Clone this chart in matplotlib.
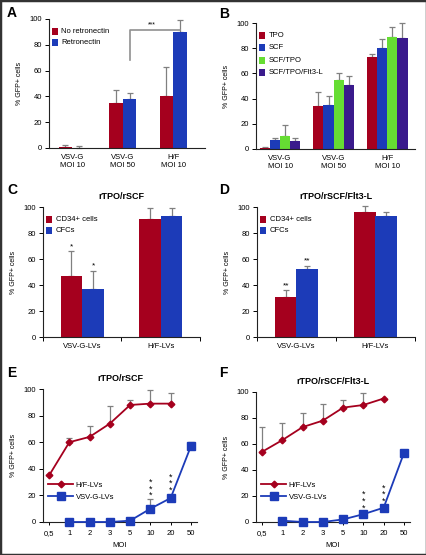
import matplotlib
matplotlib.use("Agg")
import matplotlib.pyplot as plt
import numpy as np
from matplotlib.patches import Rectangle

plt.rcParams['font.family'] = ['Liberation Sans', 'DejaVu Sans']

# ---------------- data ----------------
groups_ab = ["VSV-G\nMOI 10", "VSV-G\nMOI 50", "H/F\nMOI 10"]
a_labels = ["No retronectin", "Retronectin"]
a_noretro = [1, 35, 40]
a_noretro_err = [1, 10, 23]
a_retro = [0.3, 38, 90]
a_retro_err = [1.2, 5, 9]

b_labels = ["TPO", "SCF", "SCF/TPO", "SCF/TPO/Flt3-L"]
b_tpo = [0.5, 34, 73]
b_tpo_err = [1, 11, 2]
b_scf = [7, 35, 80]
b_scf_err = [2, 7, 7]
b_scftpo = [10, 55, 89]
b_scftpo_err = [9, 5, 8]
b_flt3 = [6, 51, 88]
b_flt3_err = [3, 7, 12]

groups_cd = ["VSV-G-LVs", "H/F-LVs"]
cd_labels = ["CD34+ cells", "CFCs"]
c_cd34 = [47, 91]
c_cd34_err = [19, 8]
c_cfc = [37, 93]
c_cfc_err = [14, 6]
d_cd34 = [31, 96]
d_cd34_err = [5, 5]
d_cfc = [52, 93]
d_cfc_err = [3, 3]

moi_labels = ["0,5", "1", "2", "3", "5", "10", "20", "50"]
e_hf = [35, 60, 64, 74, 88, 89, 89, np.nan]
e_hf_err = [0, 3, 8, 13, 4, 10, 8, 0]
e_vsv = [np.nan, 0, 0, 0, 1, 10, 18, 57]
e_vsv_err = [0, 0, 0, 0, 0, 7, 0, 3]
f_hf = [54, 63, 73, 78, 88, 90, 95, np.nan]
f_hf_err = [19, 13, 11, 13, 6, 9, 0, 0]
f_vsv = [np.nan, 1, 0, 0, 2, 6, 11, 53]
f_vsv_err = [0, 0, 0, 0, 0, 0, 0, 2]

RED = "#a5001e"
BLUE = "#1c3bb8"
GREEN = "#66dd33"
PURPLE = "#3a1a8c"
ECOL = "#808080"
FS = 5.5

W, H = 427, 555
fig = plt.figure(figsize=(W / 100, H / 100), dpi=100)


def ax_px(left, right, top, bottom):
    return fig.add_axes([left / W, 1 - bottom / H, (right - left) / W, (bottom - top) / H])


def style(ax, ylabel=True):
    for s in ["top", "right"]:
        ax.spines[s].set_visible(False)
    for s in ["left", "bottom"]:
        ax.spines[s].set_linewidth(0.8)
        ax.spines[s].set_color("#222222")
    ax.set_yticks([0, 20, 40, 60, 80, 100])
    ax.tick_params(axis="y", labelsize=FS, length=3, width=0.7, pad=2)
    ax.tick_params(axis="x", labelsize=FS, width=0.7)
    if ylabel:
        ax.set_ylabel("% GFP+ cells", fontsize=5, labelpad=5)


def leg_boxes(ax, labels, colors, x0, y0, dy):
    for i, (lab, c) in enumerate(zip(labels, colors)):
        y = y0 - i * dy
        ax.add_patch(Rectangle((x0, y - 0.022), 0.035, 0.055, transform=ax.transAxes,
                               facecolor=c, edgecolor="none", clip_on=False))
        ax.text(x0 + 0.06, y + 0.005, lab, transform=ax.transAxes, fontsize=FS,
                va="center", ha="left")


def bars(ax, series, errs, colors, width):
    n = len(series)
    x = np.arange(len(series[0]))
    for i, (v, e, c) in enumerate(zip(series, errs, colors)):
        xs = x + (i - (n - 1) / 2) * width
        ax.bar(xs, v, width, color=c, zorder=2)
        ax.errorbar(xs, v, yerr=[np.zeros(len(e)), e], fmt="none", ecolor=ECOL,
                    elinewidth=0.9, capsize=2.2, capthick=0.9, zorder=1, clip_on=False)
    return x


# ---------------- A ----------------
axA = ax_px(49, 205, 19, 148)
xa = bars(axA, [a_noretro, a_retro], [a_noretro_err, a_retro_err], [RED, BLUE], 0.27)
axA.set_xlim(-0.46, 2.63)
axA.set_ylim(0, 100)
style(axA)
axA.set_xticks(xa)
axA.set_xticklabels(groups_ab, fontsize=FS)
axA.tick_params(axis="x", length=0, pad=4)
leg_boxes(axA, a_labels, [RED, BLUE], 0.02, 0.9, 0.09)
xl = 1 + 0.135
xr = 2 + 0.135
axA.plot([xl, xl, xr], [68, 91.5, 91.5], color="#909090", lw=1.2, zorder=3)
axA.text((xl + xr) / 2 - 0.05, 93, "***", fontsize=5, ha="center", va="bottom")
fig.text(7 / W, 1 - 13 / H, "A", fontsize=10, fontweight="bold", va="center")

# ---------------- B ----------------
axB = ax_px(256, 415, 23, 149)
xb = bars(axB, [b_tpo, b_scf, b_scftpo, b_flt3],
          [b_tpo_err, b_scf_err, b_scftpo_err, b_flt3_err],
          [RED, BLUE, GREEN, PURPLE], 0.19)
axB.set_xlim(-0.45, 2.52)
axB.set_ylim(0, 100)
style(axB)
axB.set_xticks(xb)
axB.set_xticklabels(groups_ab, fontsize=FS)
axB.tick_params(axis="x", length=0, pad=4)
leg_boxes(axB, b_labels, [RED, BLUE, GREEN, PURPLE], 0.02, 0.895, 0.098)
fig.text(219 / W, 1 - 14 / H, "B", fontsize=10, fontweight="bold", va="center")


# ---------------- C / D ----------------
def cd_panel(ax, s1, e1, s2, e2, star, title):
    x = bars(ax, [s1, s2], [e1, e2], [RED, BLUE], 0.275)
    ax.set_xlim(-0.5, 1.5)
    ax.set_ylim(0, 100)
    style(ax)
    ax.set_xticks(x)
    ax.set_xticklabels(groups_cd, fontsize=FS)
    ax.tick_params(axis="x", which="major", length=0, pad=4)
    ax.set_xticks([-0.5, 0.5, 1.5], minor=True)
    ax.tick_params(axis="x", which="minor", length=3, width=0.7)
    for xs, v, e in [(-0.1375, s1[0], e1[0]), (0.1375, s2[0], e2[0])]:
        ax.text(xs, v + e + 1, star, fontsize=6, ha="center", va="bottom")
    ax.set_title(title, fontsize=6.5, fontweight="bold", pad=6)
    leg_boxes(ax, cd_labels, [RED, BLUE], 0.02, 0.9, 0.085)


axC = ax_px(43, 200, 207, 337)
cd_panel(axC, c_cd34, c_cd34_err, c_cfc, c_cfc_err, "*", "rTPO/rSCF")
fig.text(7 / W, 1 - 190 / H, "C", fontsize=10, fontweight="bold", va="center")

axD = ax_px(257, 415, 207, 337)
cd_panel(axD, d_cd34, d_cd34_err, d_cfc, d_cfc_err, "**", "rTPO/rSCF/Flt3-L")
fig.text(219 / W, 1 - 190 / H, "D", fontsize=10, fontweight="bold", va="center")


# ---------------- E / F ----------------
def line_panel(ax, hf, hf_err, vsv, vsv_err, title, stars):
    x = np.arange(len(moi_labels))
    hf = np.array(hf, float)
    vsv = np.array(vsv, float)
    ax.errorbar(x, hf, yerr=[np.zeros(len(x)), hf_err], fmt="none", ecolor=ECOL,
                elinewidth=0.9, capsize=2.2, capthick=0.9, zorder=1, clip_on=False)
    ax.errorbar(x, vsv, yerr=[np.zeros(len(x)), vsv_err], fmt="none", ecolor=ECOL,
                elinewidth=0.9, capsize=2.2, capthick=0.9, zorder=1, clip_on=False)
    l1, = ax.plot(x, hf, color=RED, lw=1.3, marker="D", markersize=3.4, zorder=3,
                  clip_on=False, label="H/F-LVs")
    l2, = ax.plot(x, vsv, color=BLUE, lw=1.3, marker="s", markersize=5.8, zorder=3,
                  clip_on=False, label="VSV-G-LVs")
    ax.set_xlim(-0.3, 7.3)
    ax.set_ylim(0, 100)
    style(ax)
    ax.set_xticks(x)
    ax.set_xticklabels(moi_labels, fontsize=FS)
    ax.tick_params(axis="x", length=2.5, pad=3)
    ax.set_xlabel("MOI", fontsize=5.5, labelpad=4)
    ax.set_title(title, fontsize=6.5, fontweight="bold", pad=6)
    for xi, yc in stars:
        ax.text(xi, yc, "*\n*\n*", fontsize=6.5, ha="center", va="center",
                linespacing=0.65)
    ax.legend(handles=[l1, l2], loc="lower left", bbox_to_anchor=(0.0, 0.12),
              frameon=False, fontsize=FS, handlelength=3.2, handletextpad=0.4,
              labelspacing=0.6, borderaxespad=0.3)


axE = ax_px(43, 197, 389, 522)
line_panel(axE, e_hf, e_hf_err, e_vsv, e_vsv_err, "rTPO/rSCF",
           [(5, 25), (6, 29)])
fig.text(7 / W, 1 - 373 / H, "E", fontsize=10, fontweight="bold", va="center")

axF = ax_px(256, 410, 392, 522)
line_panel(axF, f_hf, f_hf_err, f_vsv, f_vsv_err, "rTPO/rSCF/Flt3-L",
           [(5, 16), (6, 21)])
fig.text(219 / W, 1 - 373 / H, "F", fontsize=10, fontweight="bold", va="center")

# outer frame
fig.patches.append(Rectangle((0, 0), 1, 1, transform=fig.transFigure, fill=False,
                             edgecolor="#333333", lw=2.5))

fig.savefig("out.png", dpi=100)
